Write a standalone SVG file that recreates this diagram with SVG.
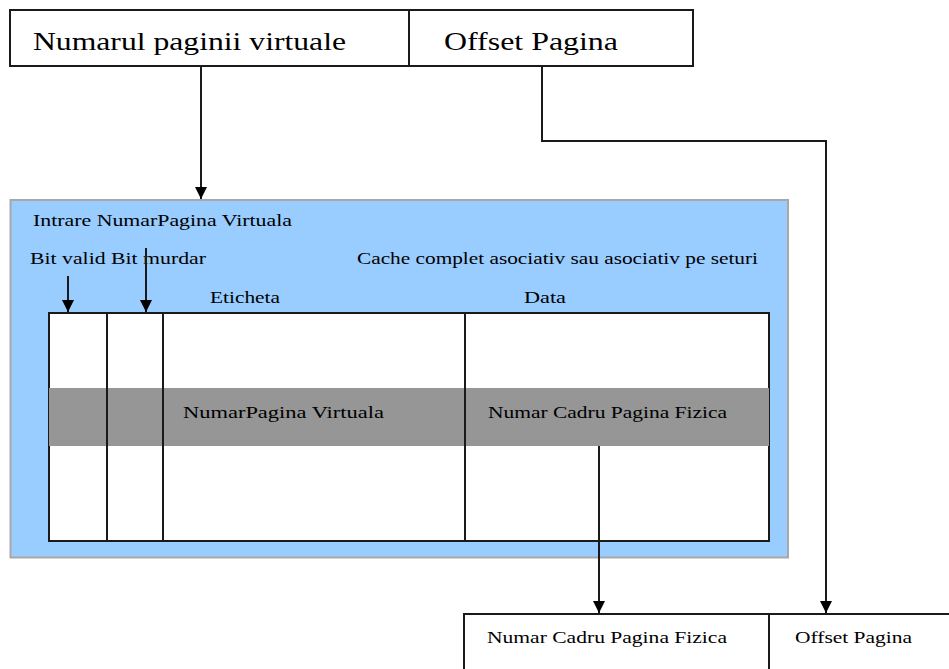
<svg xmlns="http://www.w3.org/2000/svg" width="949" height="669" viewBox="0 0 949 669">
<style>
.ln{stroke:#1a1a1a;stroke-width:2;fill:none}
.bx{stroke:#1a1a1a;stroke-width:2;fill:#fff}
.t{font-family:"Liberation Serif","Times New Roman",serif;fill:#000}
.big{font-size:26px}
.sm{font-size:17px}
</style>
<defs>
<marker id="ah" viewBox="0 0 10 10" refX="10" refY="5" markerWidth="12" markerHeight="12" markerUnits="userSpaceOnUse" orient="auto">
<path d="M0,0 L10,5 L0,10 z" fill="#000"/>
</marker>
</defs>
<rect width="949" height="669" fill="#fff"/>
<g id="virtual-address">
<rect class="bx" x="10" y="10" width="683" height="56"/>
<line class="ln" x1="409" y1="10" x2="409" y2="66"/>
<text class="t big" x="33" y="50" textLength="313" lengthAdjust="spacingAndGlyphs">Numarul paginii virtuale</text>
<text class="t big" x="444" y="50" textLength="174" lengthAdjust="spacingAndGlyphs">Offset Pagina</text>
</g>
<g id="cache">
<rect x="10.5" y="200" width="777.5" height="357.5" fill="#99ccff" stroke="#a8a8a8" stroke-width="2"/>
<text class="t sm" x="33" y="226" textLength="259" lengthAdjust="spacingAndGlyphs">Intrare NumarPagina Virtuala</text>
<text class="t sm" x="30" y="264" textLength="176" lengthAdjust="spacingAndGlyphs">Bit valid Bit murdar</text>
<text class="t sm" x="357" y="264" textLength="401" lengthAdjust="spacingAndGlyphs">Cache complet asociativ sau asociativ pe seturi</text>
<text class="t sm" x="210" y="303" textLength="70" lengthAdjust="spacingAndGlyphs">Eticheta</text>
<text class="t sm" x="524" y="303" textLength="42" lengthAdjust="spacingAndGlyphs">Data</text>
<rect class="bx" x="49" y="313" width="720" height="228"/>
<rect x="49" y="388" width="720" height="58" fill="#969696"/>
<line class="ln" x1="107" y1="313" x2="107" y2="541"/>
<line class="ln" x1="163" y1="313" x2="163" y2="541"/>
<line class="ln" x1="465" y1="313" x2="465" y2="541"/>
<text class="t sm" x="183" y="418" textLength="201" lengthAdjust="spacingAndGlyphs">NumarPagina Virtuala</text>
<text class="t sm" x="488" y="418" textLength="239" lengthAdjust="spacingAndGlyphs">Numar Cadru Pagina Fizica</text>
</g>
<g id="physical-address">
<rect class="bx" x="464" y="614" width="495" height="70"/>
<line class="ln" x1="769" y1="614" x2="769" y2="669"/>
<text class="t sm" x="487" y="643" textLength="240" lengthAdjust="spacingAndGlyphs">Numar Cadru Pagina Fizica</text>
<text class="t sm" x="795" y="643" textLength="117" lengthAdjust="spacingAndGlyphs">Offset Pagina</text>
</g>
<g id="connectors">
<line class="ln" x1="201" y1="66" x2="201" y2="199" marker-end="url(#ah)"/>
<polyline class="ln" points="542,66 542,141 826,141 826,613" marker-end="url(#ah)"/>
<line class="ln" x1="68" y1="276" x2="68" y2="312" marker-end="url(#ah)"/>
<line class="ln" x1="146" y1="248" x2="146" y2="312" marker-end="url(#ah)"/>
<line class="ln" x1="599" y1="446" x2="599" y2="613" marker-end="url(#ah)"/>
</g>
</svg>
